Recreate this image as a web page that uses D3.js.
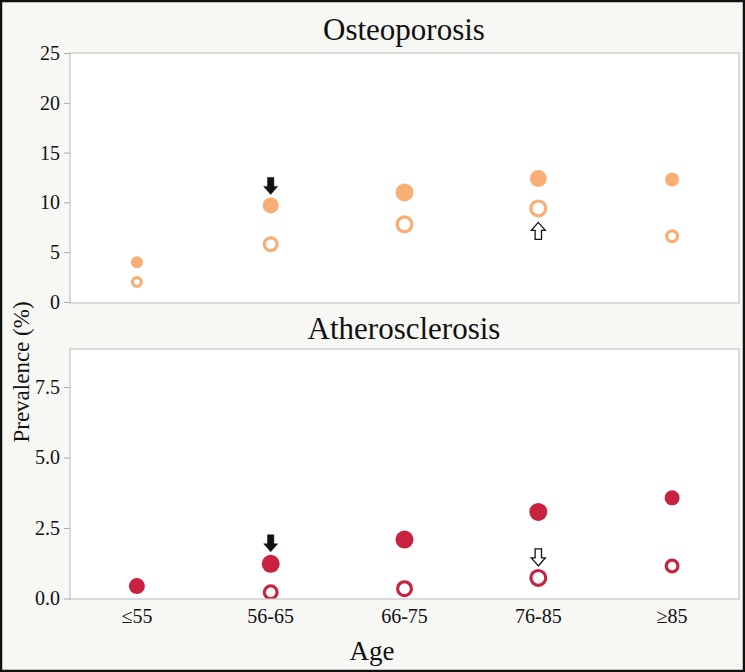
<!DOCTYPE html>
<html><head><meta charset="utf-8">
<script src="https://cdn.jsdelivr.net/npm/d3@7"></script>
<style>body{margin:0;background:#fff}svg{display:block}text{font-family:"Liberation Serif","Times New Roman",serif;fill:#111}</style>
</head><body><svg id="c" width="745" height="672"></svg>
<script>
const ageGroups = ["≤55", "56-65", "66-75", "76-85", "≥85"];
const panels = ["Osteoporosis", "Atherosclerosis"];
const osteoFilled = [4.0, 9.7, 11.0, 12.4, 12.3];
const osteoOpen = [2.0, 5.8, 7.8, 9.4, 6.6];
const athFilled = [0.44, 1.23, 2.09, 3.07, 3.57];
const athOpen = [null, 0.22, 0.35, 0.73, 1.15];
const osteoFilledR = [6, 8, 9, 8.5, 7];
const osteoOpenR = [6, 8, 9, 9, 7];
const athFilledR = [8, 9, 9, 9, 7.5];
const athOpenR = [8, 8, 8.5, 9, 7.5];
const osteoTicks = [0, 5, 10, 15, 20, 25];
const athTicks = [0, 2.5, 5, 7.5];
const osteoColor = "#f8ae74";
const athColor = "#c92240";
// arrows: [panelIndex, ageIndex, series, direction, filled]
const arrows = [
  [0, 1, "filled", "down", true],
  [0, 3, "open", "up", false],
  [1, 1, "filled", "down", true],
  [1, 3, "open", "down", false]
];

const svg = d3.select("#c");
const W = 745, H = 672;
svg.append("rect").attr("x",1).attr("y",1).attr("width",W-2).attr("height",H-2)
  .attr("fill","#f7f7f4").attr("stroke","#111").attr("stroke-width",2.5);

const x = d3.scaleBand().domain(ageGroups).range([70, 739]).padding(0);
const layout = [
  {top:53, bottom:303, ticks:osteoTicks, fmt:d3.format("d"), titleY:40,
   filled:osteoFilled, open:osteoOpen, fr:osteoFilledR, or:osteoOpenR, color:osteoColor},
  {top:349, bottom:599, ticks:athTicks, fmt:d3.format(".1f"), titleY:339,
   filled:athFilled, open:athOpen, fr:athFilledR, or:athOpenR, color:athColor}
];
layout[0].y = d3.scaleLinear().domain([0,25]).range([302,53]);
layout[1].y = d3.scaleLinear().domain([0,7.5]).range([598.5,387]);

layout.forEach((p,i)=>{
  const g = svg.append("g");
  svg.append("text").attr("x",404).attr("y",p.titleY).attr("text-anchor","middle")
    .attr("font-size",31).text(panels[i]);
  g.append("rect").attr("x",70).attr("y",p.top).attr("width",669).attr("height",p.bottom-p.top)
    .attr("fill","#fff").attr("stroke","#cfcfcf").attr("stroke-width",1.5);
  const ax = g.append("g").attr("transform","translate(70,0)")
    .call(d3.axisLeft(p.y).tickValues(p.ticks).tickFormat(p.fmt).tickSize(6).tickPadding(4));
  ax.select(".domain").remove();
  ax.selectAll(".tick line").attr("stroke","#aaa");
  ax.selectAll(".tick text").style("font-size","20px").attr("fill","#111");
  const clipId = "clip"+i;
  svg.append("clipPath").attr("id",clipId).append("rect")
    .attr("x",70).attr("y",p.top).attr("width",669).attr("height",p.bottom-p.top-0.5);
  const pts = g.append("g").attr("clip-path",`url(#${clipId})`);
  pts.selectAll("circle.f").data(ageGroups.map((a,k)=>({a,v:p.filled[k],r:p.fr[k]})).filter(d=>d.v!=null))
    .join("circle").attr("cx",d=>x(d.a)+x.bandwidth()/2).attr("cy",d=>p.y(d.v)).attr("r",d=>d.r)
    .attr("fill",p.color);
  pts.selectAll("circle.o").data(ageGroups.map((a,k)=>({a,v:p.open[k],r:p.or[k]})).filter(d=>d.v!=null))
    .join("circle").attr("cx",d=>x(d.a)+x.bandwidth()/2).attr("cy",d=>p.y(d.v)).attr("r",d=>d.r-1.6)
    .attr("fill","#fff").attr("stroke",p.color).attr("stroke-width",3.2);
});

// x axis labels under lower panel
const xa = svg.append("g").attr("transform","translate(0,599)")
  .call(d3.axisBottom(x).tickSize(0).tickPadding(6));
xa.select(".domain").remove();
xa.selectAll(".tick text").style("font-size","20px").attr("fill","#111").attr("dy","0.9em");

svg.append("text").attr("x",372).attr("y",660).attr("text-anchor","middle").attr("font-size",27).text("Age");
svg.append("text").attr("transform","translate(29,372) rotate(-90)").attr("text-anchor","middle")
  .attr("font-size",23).text("Prevalence (%)");

// arrows
function arrowPath(cx, tipY, dir){
  const s = dir==="down" ? 1 : -1;
  const h=17, hw=7, sw=3.2, headH=8;
  const base = tipY - s*h, neck = tipY - s*headH;
  return `M${cx},${tipY} L${cx-hw},${neck} L${cx-sw},${neck} L${cx-sw},${base} L${cx+sw},${base} L${cx+sw},${neck} L${cx+hw},${neck} Z`;
}
arrows.forEach(([pi,ai,series,dir,filled])=>{
  const p = layout[pi];
  const v = series==="filled" ? p.filled[ai] : p.open[ai];
  const r = series==="filled" ? p.fr[ai] : p.or[ai];
  const cx = x(ageGroups[ai]) + x.bandwidth()/2;
  const cy = p.y(v);
  const tip = dir==="down" ? cy - r - 3 : cy + r + 5;
  svg.append("path").attr("d",arrowPath(cx, tip, dir))
    .attr("fill",filled?"#111":"#fff").attr("stroke","#111").attr("stroke-width",filled?0.5:1.3)
    .attr("stroke-linejoin","miter");
});
</script></body></html>
